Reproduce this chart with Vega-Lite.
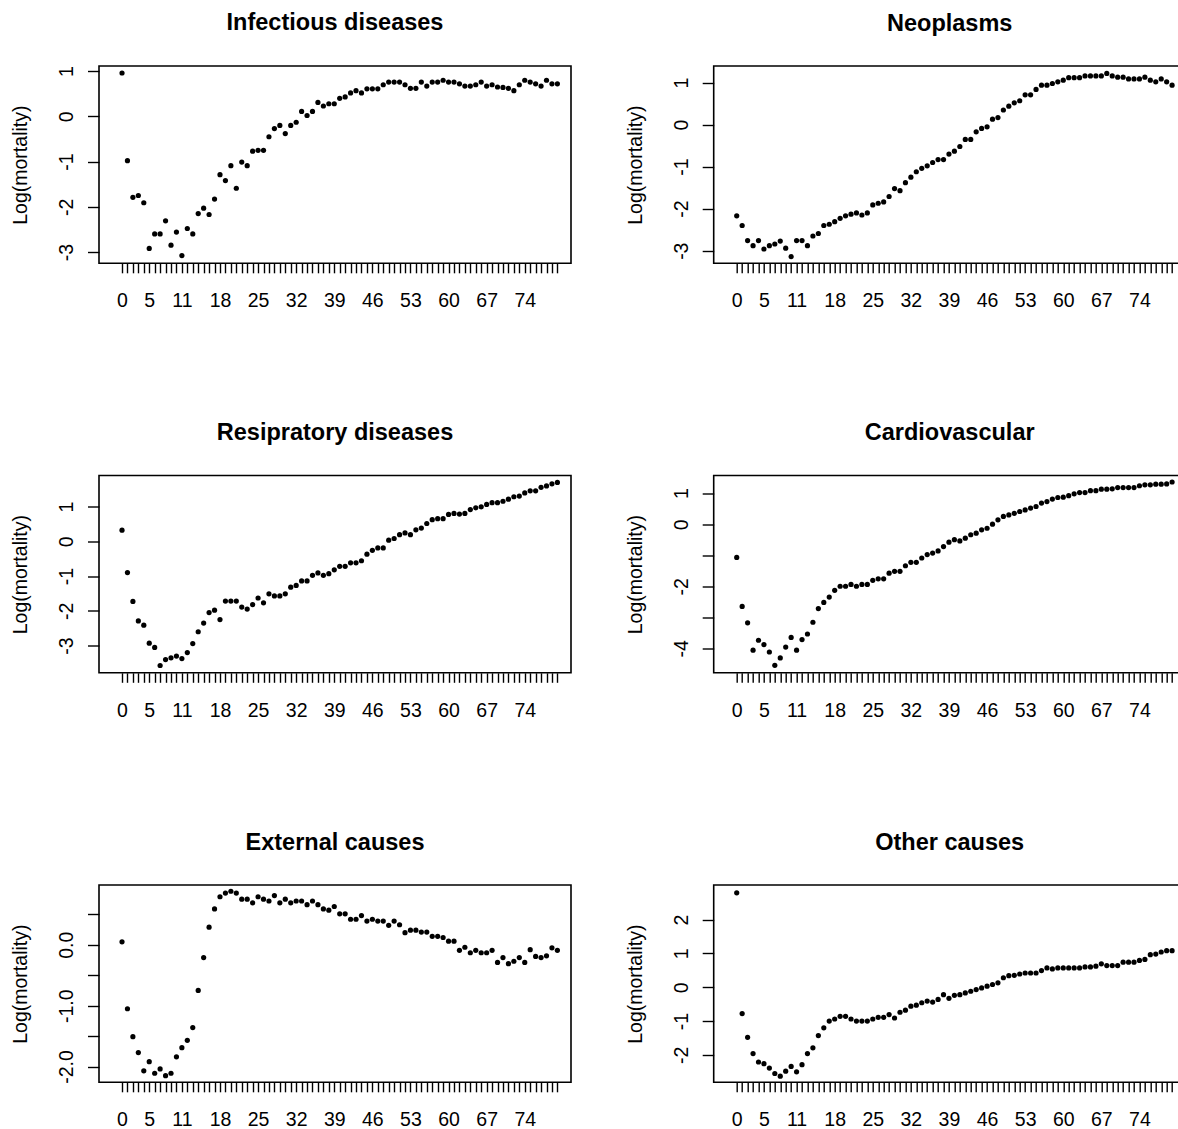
{
  "$schema": "https://vega.github.io/schema/vega-lite/v6.json",
  "background": "white",
  "padding": {"left": 9, "top": 10, "right": 0, "bottom": 0},
  "datasets": {
    "inf": [
      {"age":0,"value":0.96},{"age":1,"value":-0.98},{"age":2,"value":-1.79},{"age":3,"value":-1.75},{"age":4,"value":-1.91},{"age":5,"value":-2.92},{"age":6,"value":-2.60},{"age":7,"value":-2.60},{"age":8,"value":-2.31},{"age":9,"value":-2.85},
      {"age":10,"value":-2.56},{"age":11,"value":-3.08},{"age":12,"value":-2.48},{"age":13,"value":-2.60},{"age":14,"value":-2.15},{"age":15,"value":-2.03},{"age":16,"value":-2.17},{"age":17,"value":-1.83},{"age":18,"value":-1.29},{"age":19,"value":-1.42},
      {"age":20,"value":-1.09},{"age":21,"value":-1.59},{"age":22,"value":-1.01},{"age":23,"value":-1.09},{"age":24,"value":-0.77},{"age":25,"value":-0.75},{"age":26,"value":-0.75},{"age":27,"value":-0.45},{"age":28,"value":-0.27},{"age":29,"value":-0.20},
      {"age":30,"value":-0.38},{"age":31,"value":-0.20},{"age":32,"value":-0.13},{"age":33,"value":0.11},{"age":34,"value":0.02},{"age":35,"value":0.11},{"age":36,"value":0.31},{"age":37,"value":0.23},{"age":38,"value":0.28},{"age":39,"value":0.28},
      {"age":40,"value":0.40},{"age":41,"value":0.43},{"age":42,"value":0.52},{"age":43,"value":0.57},{"age":44,"value":0.52},{"age":45,"value":0.61},{"age":46,"value":0.61},{"age":47,"value":0.61},{"age":48,"value":0.70},{"age":49,"value":0.76},
      {"age":50,"value":0.76},{"age":51,"value":0.76},{"age":52,"value":0.70},{"age":53,"value":0.62},{"age":54,"value":0.62},{"age":55,"value":0.76},{"age":56,"value":0.67},{"age":57,"value":0.76},{"age":58,"value":0.76},{"age":59,"value":0.80},
      {"age":60,"value":0.76},{"age":61,"value":0.76},{"age":62,"value":0.72},{"age":63,"value":0.67},{"age":64,"value":0.67},{"age":65,"value":0.70},{"age":66,"value":0.76},{"age":67,"value":0.67},{"age":68,"value":0.70},{"age":69,"value":0.65},
      {"age":70,"value":0.64},{"age":71,"value":0.62},{"age":72,"value":0.57},{"age":73,"value":0.70},{"age":74,"value":0.80},{"age":75,"value":0.76},{"age":76,"value":0.72},{"age":77,"value":0.67},{"age":78,"value":0.80},{"age":79,"value":0.72},
      {"age":80,"value":0.72}
    ],
    "neo": [
      {"age":0,"value":-2.17},{"age":1,"value":-2.40},{"age":2,"value":-2.76},{"age":3,"value":-2.88},{"age":4,"value":-2.76},{"age":5,"value":-2.96},{"age":6,"value":-2.88},{"age":7,"value":-2.84},{"age":8,"value":-2.77},{"age":9,"value":-2.94},
      {"age":10,"value":-3.14},{"age":11,"value":-2.76},{"age":12,"value":-2.76},{"age":13,"value":-2.88},{"age":14,"value":-2.65},{"age":15,"value":-2.59},{"age":16,"value":-2.40},{"age":17,"value":-2.37},{"age":18,"value":-2.31},{"age":19,"value":-2.23},
      {"age":20,"value":-2.17},{"age":21,"value":-2.13},{"age":22,"value":-2.10},{"age":23,"value":-2.15},{"age":24,"value":-2.10},{"age":25,"value":-1.91},{"age":26,"value":-1.87},{"age":27,"value":-1.84},{"age":28,"value":-1.71},{"age":29,"value":-1.52},
      {"age":30,"value":-1.57},{"age":31,"value":-1.38},{"age":32,"value":-1.25},{"age":33,"value":-1.12},{"age":34,"value":-1.04},{"age":35,"value":-0.98},{"age":36,"value":-0.90},{"age":37,"value":-0.83},{"age":38,"value":-0.83},{"age":39,"value":-0.70},
      {"age":40,"value":-0.63},{"age":41,"value":-0.52},{"age":42,"value":-0.35},{"age":43,"value":-0.35},{"age":44,"value":-0.17},{"age":45,"value":-0.09},{"age":46,"value":-0.05},{"age":47,"value":0.13},{"age":48,"value":0.17},{"age":49,"value":0.35},
      {"age":50,"value":0.44},{"age":51,"value":0.52},{"age":52,"value":0.57},{"age":53,"value":0.71},{"age":54,"value":0.71},{"age":55,"value":0.84},{"age":56,"value":0.94},{"age":57,"value":0.94},{"age":58,"value":0.98},{"age":59,"value":1.02},
      {"age":60,"value":1.06},{"age":61,"value":1.12},{"age":62,"value":1.12},{"age":63,"value":1.12},{"age":64,"value":1.16},{"age":65,"value":1.16},{"age":66,"value":1.16},{"age":67,"value":1.16},{"age":68,"value":1.22},{"age":69,"value":1.16},
      {"age":70,"value":1.13},{"age":71,"value":1.13},{"age":72,"value":1.09},{"age":73,"value":1.09},{"age":74,"value":1.09},{"age":75,"value":1.13},{"age":76,"value":1.06},{"age":77,"value":1.02},{"age":78,"value":1.09},{"age":79,"value":1.02},
      {"age":80,"value":0.94}
    ],
    "resp": [
      {"age":0,"value":0.32},{"age":1,"value":-0.90},{"age":2,"value":-1.73},{"age":3,"value":-2.29},{"age":4,"value":-2.41},{"age":5,"value":-2.93},{"age":6,"value":-3.05},{"age":7,"value":-3.57},{"age":8,"value":-3.40},{"age":9,"value":-3.35},
      {"age":10,"value":-3.30},{"age":11,"value":-3.37},{"age":12,"value":-3.20},{"age":13,"value":-2.94},{"age":14,"value":-2.60},{"age":15,"value":-2.35},{"age":16,"value":-2.05},{"age":17,"value":-1.98},{"age":18,"value":-2.25},{"age":19,"value":-1.72},
      {"age":20,"value":-1.72},{"age":21,"value":-1.72},{"age":22,"value":-1.89},{"age":23,"value":-1.95},{"age":24,"value":-1.82},{"age":25,"value":-1.63},{"age":26,"value":-1.77},{"age":27,"value":-1.51},{"age":28,"value":-1.57},{"age":29,"value":-1.57},
      {"age":30,"value":-1.51},{"age":31,"value":-1.32},{"age":32,"value":-1.27},{"age":33,"value":-1.14},{"age":34,"value":-1.14},{"age":35,"value":-0.98},{"age":36,"value":-0.91},{"age":37,"value":-0.98},{"age":38,"value":-0.93},{"age":39,"value":-0.82},
      {"age":40,"value":-0.72},{"age":41,"value":-0.72},{"age":42,"value":-0.62},{"age":43,"value":-0.62},{"age":44,"value":-0.56},{"age":45,"value":-0.37},{"age":46,"value":-0.26},{"age":47,"value":-0.19},{"age":48,"value":-0.19},{"age":49,"value":0.03},
      {"age":50,"value":0.08},{"age":51,"value":0.19},{"age":52,"value":0.24},{"age":53,"value":0.19},{"age":54,"value":0.33},{"age":55,"value":0.38},{"age":56,"value":0.51},{"age":57,"value":0.62},{"age":58,"value":0.65},{"age":59,"value":0.65},
      {"age":60,"value":0.77},{"age":61,"value":0.80},{"age":62,"value":0.78},{"age":63,"value":0.80},{"age":64,"value":0.91},{"age":65,"value":0.96},{"age":66,"value":0.99},{"age":67,"value":1.06},{"age":68,"value":1.11},{"age":69,"value":1.11},
      {"age":70,"value":1.15},{"age":71,"value":1.21},{"age":72,"value":1.28},{"age":73,"value":1.30},{"age":74,"value":1.39},{"age":75,"value":1.45},{"age":76,"value":1.45},{"age":77,"value":1.55},{"age":78,"value":1.59},{"age":79,"value":1.65},
      {"age":80,"value":1.69}
    ],
    "card": [
      {"age":0,"value":-1.07},{"age":1,"value":-2.65},{"age":2,"value":-3.18},{"age":3,"value":-4.06},{"age":4,"value":-3.74},{"age":5,"value":-3.88},{"age":6,"value":-4.12},{"age":7,"value":-4.55},{"age":8,"value":-4.31},{"age":9,"value":-3.96},
      {"age":10,"value":-3.65},{"age":11,"value":-4.06},{"age":12,"value":-3.72},{"age":13,"value":-3.54},{"age":14,"value":-3.16},{"age":15,"value":-2.72},{"age":16,"value":-2.52},{"age":17,"value":-2.35},{"age":18,"value":-2.13},{"age":19,"value":-2.00},
      {"age":20,"value":-2.00},{"age":21,"value":-1.94},{"age":22,"value":-2.00},{"age":23,"value":-1.94},{"age":24,"value":-1.94},{"age":25,"value":-1.81},{"age":26,"value":-1.76},{"age":27,"value":-1.76},{"age":28,"value":-1.58},{"age":29,"value":-1.52},
      {"age":30,"value":-1.52},{"age":31,"value":-1.34},{"age":32,"value":-1.23},{"age":33,"value":-1.23},{"age":34,"value":-1.09},{"age":35,"value":-0.98},{"age":36,"value":-0.93},{"age":37,"value":-0.86},{"age":38,"value":-0.72},{"age":39,"value":-0.58},
      {"age":40,"value":-0.50},{"age":41,"value":-0.54},{"age":42,"value":-0.45},{"age":43,"value":-0.34},{"age":44,"value":-0.29},{"age":45,"value":-0.18},{"age":46,"value":-0.13},{"age":47,"value":0.00},{"age":48,"value":0.14},{"age":49,"value":0.25},
      {"age":50,"value":0.30},{"age":51,"value":0.35},{"age":52,"value":0.41},{"age":53,"value":0.46},{"age":54,"value":0.52},{"age":55,"value":0.57},{"age":56,"value":0.68},{"age":57,"value":0.73},{"age":58,"value":0.81},{"age":59,"value":0.86},
      {"age":60,"value":0.87},{"age":61,"value":0.92},{"age":62,"value":0.98},{"age":63,"value":1.02},{"age":64,"value":1.02},{"age":65,"value":1.08},{"age":66,"value":1.08},{"age":67,"value":1.13},{"age":68,"value":1.13},{"age":69,"value":1.14},
      {"age":70,"value":1.18},{"age":71,"value":1.18},{"age":72,"value":1.18},{"age":73,"value":1.18},{"age":74,"value":1.24},{"age":75,"value":1.27},{"age":76,"value":1.27},{"age":77,"value":1.29},{"age":78,"value":1.29},{"age":79,"value":1.30},
      {"age":80,"value":1.36}
    ],
    "ext": [
      {"age":0,"value":0.05},{"age":1,"value":-1.05},{"age":2,"value":-1.51},{"age":3,"value":-1.77},{"age":4,"value":-2.07},{"age":5,"value":-1.92},{"age":6,"value":-2.11},{"age":7,"value":-2.04},{"age":8,"value":-2.15},{"age":9,"value":-2.11},
      {"age":10,"value":-1.84},{"age":11,"value":-1.69},{"age":12,"value":-1.57},{"age":13,"value":-1.36},{"age":14,"value":-0.75},{"age":15,"value":-0.21},{"age":16,"value":0.29},{"age":17,"value":0.59},{"age":18,"value":0.79},{"age":19,"value":0.85},
      {"age":20,"value":0.88},{"age":21,"value":0.85},{"age":22,"value":0.75},{"age":23,"value":0.75},{"age":24,"value":0.69},{"age":25,"value":0.79},{"age":26,"value":0.75},{"age":27,"value":0.72},{"age":28,"value":0.81},{"age":29,"value":0.69},
      {"age":30,"value":0.75},{"age":31,"value":0.69},{"age":32,"value":0.72},{"age":33,"value":0.72},{"age":34,"value":0.66},{"age":35,"value":0.72},{"age":36,"value":0.66},{"age":37,"value":0.59},{"age":38,"value":0.57},{"age":39,"value":0.63},
      {"age":40,"value":0.51},{"age":41,"value":0.51},{"age":42,"value":0.42},{"age":43,"value":0.42},{"age":44,"value":0.48},{"age":45,"value":0.39},{"age":46,"value":0.42},{"age":47,"value":0.39},{"age":48,"value":0.39},{"age":49,"value":0.32},
      {"age":50,"value":0.39},{"age":51,"value":0.33},{"age":52,"value":0.20},{"age":53,"value":0.24},{"age":54,"value":0.24},{"age":55,"value":0.21},{"age":56,"value":0.21},{"age":57,"value":0.14},{"age":58,"value":0.14},{"age":59,"value":0.12},
      {"age":60,"value":0.06},{"age":61,"value":0.06},{"age":62,"value":-0.09},{"age":63,"value":-0.04},{"age":64,"value":-0.13},{"age":65,"value":-0.09},{"age":66,"value":-0.13},{"age":67,"value":-0.13},{"age":68,"value":-0.09},{"age":69,"value":-0.29},
      {"age":70,"value":-0.21},{"age":71,"value":-0.31},{"age":72,"value":-0.27},{"age":73,"value":-0.21},{"age":74,"value":-0.29},{"age":75,"value":-0.08},{"age":76,"value":-0.19},{"age":77,"value":-0.21},{"age":78,"value":-0.18},{"age":79,"value":-0.05},
      {"age":80,"value":-0.09}
    ],
    "oth": [
      {"age":0,"value":2.79},{"age":1,"value":-0.78},{"age":2,"value":-1.48},{"age":3,"value":-1.96},{"age":4,"value":-2.21},{"age":5,"value":-2.26},{"age":6,"value":-2.39},{"age":7,"value":-2.55},{"age":8,"value":-2.63},{"age":9,"value":-2.48},
      {"age":10,"value":-2.34},{"age":11,"value":-2.50},{"age":12,"value":-2.29},{"age":13,"value":-1.96},{"age":14,"value":-1.79},{"age":15,"value":-1.43},{"age":16,"value":-1.20},{"age":17,"value":-1.00},{"age":18,"value":-0.94},{"age":19,"value":-0.86},
      {"age":20,"value":-0.86},{"age":21,"value":-0.94},{"age":22,"value":-1.00},{"age":23,"value":-1.00},{"age":24,"value":-1.00},{"age":25,"value":-0.94},{"age":26,"value":-0.89},{"age":27,"value":-0.89},{"age":28,"value":-0.81},{"age":29,"value":-0.91},
      {"age":30,"value":-0.74},{"age":31,"value":-0.68},{"age":32,"value":-0.56},{"age":33,"value":-0.53},{"age":34,"value":-0.46},{"age":35,"value":-0.41},{"age":36,"value":-0.44},{"age":37,"value":-0.36},{"age":38,"value":-0.22},{"age":39,"value":-0.33},
      {"age":40,"value":-0.24},{"age":41,"value":-0.22},{"age":42,"value":-0.17},{"age":43,"value":-0.12},{"age":44,"value":-0.07},{"age":45,"value":-0.02},{"age":46,"value":0.03},{"age":47,"value":0.08},{"age":48,"value":0.13},{"age":49,"value":0.28},
      {"age":50,"value":0.34},{"age":51,"value":0.35},{"age":52,"value":0.39},{"age":53,"value":0.42},{"age":54,"value":0.42},{"age":55,"value":0.42},{"age":56,"value":0.49},{"age":57,"value":0.57},{"age":58,"value":0.54},{"age":59,"value":0.57},
      {"age":60,"value":0.57},{"age":61,"value":0.57},{"age":62,"value":0.57},{"age":63,"value":0.57},{"age":64,"value":0.60},{"age":65,"value":0.60},{"age":66,"value":0.62},{"age":67,"value":0.69},{"age":68,"value":0.64},{"age":69,"value":0.64},
      {"age":70,"value":0.64},{"age":71,"value":0.74},{"age":72,"value":0.74},{"age":73,"value":0.74},{"age":74,"value":0.79},{"age":75,"value":0.82},{"age":76,"value":0.96},{"age":77,"value":0.98},{"age":78,"value":1.04},{"age":79,"value":1.08},
      {"age":80,"value":1.08}
    ]
  },
  "columns": 2,
  "bounds": "flush",
  "spacing": {"row": 211.5, "column": 142.7},
  "concat": [
    {
      "title": "Infectious diseases",
      "width": 472, "height": 197.3,
      "data": {"name": "inf"},
      "mark": {"type": "point", "filled": true, "shape": "circle", "size": 27, "color": "black", "opacity": 1},
      "encoding": {
        "x": {"field": "age", "type": "quantitative", "title": null, "scale": {"domain": [-4.23, 82.5], "nice": false, "zero": false},
              "axis": {"values": [0,1,2,3,4,5,6,7,8,9,10,11,12,13,14,15,16,17,18,19,20,21,22,23,24,25,26,27,28,29,30,31,32,33,34,35,36,37,38,39,40,41,42,43,44,45,46,47,48,49,50,51,52,53,54,55,56,57,58,59,60,61,62,63,64,65,66,67,68,69,70,71,72,73,74,75,76,77,78,79,80],
                       "labelExpr": "indexof([0,5,11,18,25,32,39,46,53,60,67,74], datum.value) >= 0 ? toString(datum.value) : ''"}},
        "y": {"field": "value", "type": "quantitative", "title": "Log(mortality)", "scale": {"domain": [-3.25, 1.115], "nice": false, "zero": false},
              "axis": {"values": [-3,-2,-1,0,1], "labelExpr": "toString(datum.value)"}}
      }
    },
    {
      "title": "Neoplasms",
      "width": 472, "height": 197.3,
      "data": {"name": "neo"},
      "mark": {"type": "point", "filled": true, "shape": "circle", "size": 27, "color": "black", "opacity": 1},
      "encoding": {
        "x": {"field": "age", "type": "quantitative", "title": null, "scale": {"domain": [-4.23, 82.5], "nice": false, "zero": false},
              "axis": {"values": [0,1,2,3,4,5,6,7,8,9,10,11,12,13,14,15,16,17,18,19,20,21,22,23,24,25,26,27,28,29,30,31,32,33,34,35,36,37,38,39,40,41,42,43,44,45,46,47,48,49,50,51,52,53,54,55,56,57,58,59,60,61,62,63,64,65,66,67,68,69,70,71,72,73,74,75,76,77,78,79,80],
                       "labelExpr": "indexof([0,5,11,18,25,32,39,46,53,60,67,74], datum.value) >= 0 ? toString(datum.value) : ''"}},
        "y": {"field": "value", "type": "quantitative", "title": "Log(mortality)", "scale": {"domain": [-3.30, 1.397], "nice": false, "zero": false},
              "axis": {"values": [-3,-2,-1,0,1], "labelExpr": "toString(datum.value)"}}
      }
    },
    {
      "title": "Resipratory diseases",
      "width": 472, "height": 197.3,
      "data": {"name": "resp"},
      "mark": {"type": "point", "filled": true, "shape": "circle", "size": 27, "color": "black", "opacity": 1},
      "encoding": {
        "x": {"field": "age", "type": "quantitative", "title": null, "scale": {"domain": [-4.23, 82.5], "nice": false, "zero": false},
              "axis": {"values": [0,1,2,3,4,5,6,7,8,9,10,11,12,13,14,15,16,17,18,19,20,21,22,23,24,25,26,27,28,29,30,31,32,33,34,35,36,37,38,39,40,41,42,43,44,45,46,47,48,49,50,51,52,53,54,55,56,57,58,59,60,61,62,63,64,65,66,67,68,69,70,71,72,73,74,75,76,77,78,79,80],
                       "labelExpr": "indexof([0,5,11,18,25,32,39,46,53,60,67,74], datum.value) >= 0 ? toString(datum.value) : ''"}},
        "y": {"field": "value", "type": "quantitative", "title": "Log(mortality)", "scale": {"domain": [-3.78, 1.89], "nice": false, "zero": false},
              "axis": {"values": [-3,-2,-1,0,1], "labelExpr": "toString(datum.value)"}}
      }
    },
    {
      "title": "Cardiovascular",
      "width": 472, "height": 197.3,
      "data": {"name": "card"},
      "mark": {"type": "point", "filled": true, "shape": "circle", "size": 27, "color": "black", "opacity": 1},
      "encoding": {
        "x": {"field": "age", "type": "quantitative", "title": null, "scale": {"domain": [-4.23, 82.5], "nice": false, "zero": false},
              "axis": {"values": [0,1,2,3,4,5,6,7,8,9,10,11,12,13,14,15,16,17,18,19,20,21,22,23,24,25,26,27,28,29,30,31,32,33,34,35,36,37,38,39,40,41,42,43,44,45,46,47,48,49,50,51,52,53,54,55,56,57,58,59,60,61,62,63,64,65,66,67,68,69,70,71,72,73,74,75,76,77,78,79,80],
                       "labelExpr": "indexof([0,5,11,18,25,32,39,46,53,60,67,74], datum.value) >= 0 ? toString(datum.value) : ''"}},
        "y": {"field": "value", "type": "quantitative", "title": "Log(mortality)", "scale": {"domain": [-4.79, 1.57], "nice": false, "zero": false},
              "axis": {"values": [-4,-3,-2,-1,0,1], "labelExpr": "indexof([1,0,-2,-4], datum.value) >= 0 ? toString(datum.value) : ''"}}
      }
    },
    {
      "title": "External causes",
      "width": 472, "height": 197.3,
      "data": {"name": "ext"},
      "mark": {"type": "point", "filled": true, "shape": "circle", "size": 27, "color": "black", "opacity": 1},
      "encoding": {
        "x": {"field": "age", "type": "quantitative", "title": null, "scale": {"domain": [-4.23, 82.5], "nice": false, "zero": false},
              "axis": {"values": [0,1,2,3,4,5,6,7,8,9,10,11,12,13,14,15,16,17,18,19,20,21,22,23,24,25,26,27,28,29,30,31,32,33,34,35,36,37,38,39,40,41,42,43,44,45,46,47,48,49,50,51,52,53,54,55,56,57,58,59,60,61,62,63,64,65,66,67,68,69,70,71,72,73,74,75,76,77,78,79,80],
                       "labelExpr": "indexof([0,5,11,18,25,32,39,46,53,60,67,74], datum.value) >= 0 ? toString(datum.value) : ''"}},
        "y": {"field": "value", "type": "quantitative", "title": "Log(mortality)", "scale": {"domain": [-2.259, 0.983], "nice": false, "zero": false},
              "axis": {"values": [-2,-1.5,-1,-0.5,0,0.5], "labelExpr": "datum.value == 0 ? '0.0' : datum.value == -1 ? '-1.0' : datum.value == -2 ? '-2.0' : ''"}}
      }
    },
    {
      "title": "Other causes",
      "width": 472, "height": 197.3,
      "data": {"name": "oth"},
      "mark": {"type": "point", "filled": true, "shape": "circle", "size": 27, "color": "black", "opacity": 1},
      "encoding": {
        "x": {"field": "age", "type": "quantitative", "title": null, "scale": {"domain": [-4.23, 82.5], "nice": false, "zero": false},
              "axis": {"values": [0,1,2,3,4,5,6,7,8,9,10,11,12,13,14,15,16,17,18,19,20,21,22,23,24,25,26,27,28,29,30,31,32,33,34,35,36,37,38,39,40,41,42,43,44,45,46,47,48,49,50,51,52,53,54,55,56,57,58,59,60,61,62,63,64,65,66,67,68,69,70,71,72,73,74,75,76,77,78,79,80],
                       "labelExpr": "indexof([0,5,11,18,25,32,39,46,53,60,67,74], datum.value) >= 0 ? toString(datum.value) : ''"}},
        "y": {"field": "value", "type": "quantitative", "title": "Log(mortality)", "scale": {"domain": [-2.81, 3.02], "nice": false, "zero": false},
              "axis": {"values": [-2,-1,0,1,2], "labelExpr": "toString(datum.value)"}}
      }
    }
  ],
  "config": {
    "view": {"stroke": "black", "strokeWidth": 1.6, "fill": "white"},
    "title": {"font": "Liberation Sans", "fontSize": 23.5, "fontWeight": "bold", "color": "black", "anchor": "middle", "baseline": "alphabetic", "offset": 31},
    "axis": {
      "labelFont": "Liberation Sans", "labelFontSize": 19.5, "labelColor": "black",
      "titleFont": "Liberation Sans", "titleFontSize": 19.5, "titleFontWeight": "normal", "titleColor": "black",
      "domain": false, "grid": false, "tickColor": "black", "tickWidth": 1.4,
      "labelOverlap": false, "labelFlush": false, "labelBound": false
    },
    "axisX": {"tickSize": 9.5, "labelAngle": 0, "labelAlign": "center", "labelBaseline": "alphabetic", "labelPadding": 34},
    "axisY": {"tickSize": 11.5, "labelAngle": -90, "labelAlign": "center", "labelBaseline": "alphabetic", "labelPadding": 15,
              "titleAngle": -90, "titleAlign": "center", "titleBaseline": "alphabetic", "titleX": -72.3, "titleY": 98.65}
  }
}
